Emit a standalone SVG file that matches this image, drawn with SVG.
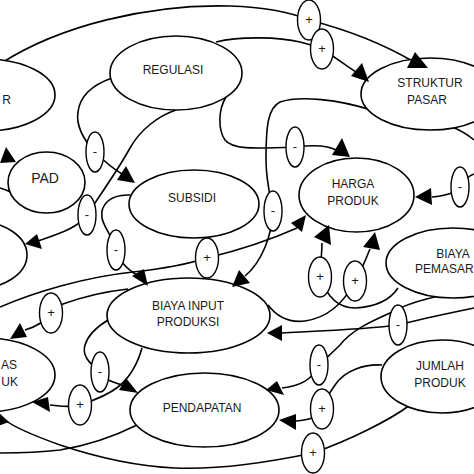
<svg xmlns="http://www.w3.org/2000/svg" width="474" height="474" viewBox="0 0 474 474">
<style>
.n ellipse{fill:#fff;stroke:#000;stroke-width:1.6}
.s ellipse{fill:#fff;stroke:#000;stroke-width:1.4}
text{font-family:"Liberation Sans",Arial,sans-serif;font-size:12px;fill:#1a1a1a;text-anchor:middle}
.s text{font-size:13px}
.e{text-anchor:end}
.st{text-anchor:start}
#connectors path{fill:none;stroke:#000;stroke-width:1.6}
#arrowheads polygon{fill:#000}
</style>
<rect width="474" height="474" fill="#fff"/>
<g id="connectors">
<path d="M0,64 C60,25 150,4 230,6 C262,7 290,12 309,20 C340,28 380,42 414,62"/>
<path d="M216,42 C240,36 280,37 300,42 C312,45 318,47 322,49 C335,57 345,65 356,72"/>
<path d="M112,78 C95,84 80,95 78,112 C76,125 82,138 95,152 C103,160 112,168 122,174"/>
<path d="M176,110 C158,116 140,130 130,148 C118,170 100,195 87,215 C78,228 58,234 38,241"/>
<path d="M130,195 C110,194 100,205 102,218 C104,228 112,235 116,250 C120,262 126,268 138,276"/>
<path d="M226,97 C218,110 218,130 225,140 C232,149 250,149 295,147 C318,144 330,146 338,151"/>
<path d="M371,110 C340,100 300,95 280,102 C268,108 266,125 266,160 C266,180 270,195 273,211 C272,235 262,262 245,276"/>
<path d="M452,127 C460,130 468,135 474,140"/>
<path d="M474,174 C468,176 462,182 460,187 C455,193 445,196 432,197"/>
<path d="M0,307 C35,292 85,277 133,272 C160,269 185,265 207,258 C240,250 270,240 297,228"/>
<path d="M398,288 C390,300 375,307 355,308 C340,308 328,300 320,277 C320,265 322,255 322,243"/>
<path d="M268,305 C278,318 290,323 305,321 C325,318 343,305 355,281 C362,270 366,258 370,249"/>
<path d="M474,308 C450,313 425,318 398,325 C370,329 320,331 282,333"/>
<path d="M474,292 C440,294 410,302 390,313 C370,322 352,330 340,345 C332,353 324,360 319,365 C312,380 300,386 282,388"/>
<path d="M382,365 C365,364 345,370 335,385 C328,395 324,402 322,409 C318,418 308,420 296,421"/>
<path d="M410,405 C390,420 350,440 313,453 C270,462 220,470 175,468 C130,466 90,455 60,445 C35,436 15,428 5,420"/>
<path d="M137,425 C115,436 90,445 60,450 C35,453 15,453 0,453"/>
<path d="M142,348 C138,362 132,376 118,387 C108,395 95,400 80,405 C70,408 60,406 50,405"/>
<path d="M108,320 C95,328 88,335 85,345 C82,355 88,362 100,372 C105,380 112,382 122,385"/>
<path d="M128,289 C110,291 85,296 63,304 C57,307 53,310 51,313 C45,322 35,327 25,330"/>
<path d="M13,193 C8,191 4,189 0,188"/>
</g>
<g id="n-left-top" class="n"><ellipse cx="-15" cy="95" rx="70" ry="36"/><text class="e" x="11" y="104">R</text></g>
<g id="n-regulasi" class="n"><ellipse cx="176" cy="73" rx="66" ry="37"/><text x="173" y="74">REGULASI</text></g>
<g id="n-struktur-pasar" class="n"><ellipse cx="430" cy="94" rx="69" ry="36"/><text x="430" y="87">STRUKTUR</text><text x="427" y="104">PASAR</text></g>
<g id="n-pad" class="n"><ellipse cx="46.5" cy="182.5" rx="38.5" ry="30.5"/><text x="45" y="183" style="font-size:14px">PAD</text></g>
<g id="n-subsidi" class="n"><ellipse cx="194" cy="204" rx="65" ry="34"/><text x="192" y="202">SUBSIDI</text></g>
<g id="n-harga-produk" class="n"><ellipse cx="356.5" cy="195" rx="57.5" ry="37"/><text x="353" y="188">HARGA</text><text x="353" y="205">PRODUK</text></g>
<g id="n-left-mid" class="n"><ellipse cx="-25" cy="255" rx="52" ry="34"/></g>
<g id="n-biaya-pemasaran" class="n"><ellipse cx="453" cy="263" rx="67" ry="35"/><text x="453" y="258">BIAYA</text><text class="st" x="415" y="273">PEMASAR</text></g>
<g id="n-biaya-input" class="n"><ellipse cx="188.5" cy="315.5" rx="81.5" ry="37.5"/><text x="188" y="310">BIAYA INPUT</text><text x="188" y="326">PRODUKSI</text></g>
<g id="n-left-bottom" class="n"><ellipse cx="-15" cy="375" rx="70" ry="37"/><text class="e" x="17" y="369">AS</text><text class="e" x="18" y="386">UK</text></g>
<g id="n-pendapatan" class="n"><ellipse cx="204.5" cy="410" rx="74.5" ry="37"/><text x="202" y="412">PENDAPATAN</text></g>
<g id="n-jumlah-produk" class="n"><ellipse cx="442" cy="376.5" rx="61" ry="36.5"/><text x="440" y="370">JUMLAH</text><text x="440" y="387">PRODUK</text></g>
<g id="s1" class="s"><ellipse cx="309" cy="20" rx="11.5" ry="20"/><text x="309" y="24">+</text></g>
<g id="s2" class="s"><ellipse cx="322" cy="49" rx="11.5" ry="20"/><text x="322" y="53">+</text></g>
<g id="s3" class="s"><ellipse cx="295" cy="147" rx="9" ry="20"/><text x="295" y="151">-</text></g>
<g id="s4" class="s"><ellipse cx="95" cy="152" rx="9" ry="20"/><text x="95" y="156">-</text></g>
<g id="s5" class="s"><ellipse cx="87" cy="215" rx="9" ry="20"/><text x="87" y="219">-</text></g>
<g id="s6" class="s"><ellipse cx="116" cy="250" rx="9" ry="20"/><text x="116" y="254">-</text></g>
<g id="s7" class="s"><ellipse cx="207" cy="258" rx="11.5" ry="20"/><text x="207" y="262">+</text></g>
<g id="s8" class="s"><ellipse cx="273" cy="211" rx="9" ry="20"/><text x="273" y="215">-</text></g>
<g id="s9" class="s"><ellipse cx="460" cy="187" rx="9" ry="20"/><text x="460" y="191">-</text></g>
<g id="s10" class="s"><ellipse cx="320" cy="277" rx="11.5" ry="20"/><text x="320" y="281">+</text></g>
<g id="s11" class="s"><ellipse cx="355" cy="281" rx="11.5" ry="20"/><text x="355" y="285">+</text></g>
<g id="s12" class="s"><ellipse cx="51" cy="313" rx="11.5" ry="20"/><text x="51" y="317">+</text></g>
<g id="s13" class="s"><ellipse cx="100" cy="372" rx="9" ry="20"/><text x="100" y="376">-</text></g>
<g id="s14" class="s"><ellipse cx="80" cy="405" rx="11.5" ry="20"/><text x="80" y="409">+</text></g>
<g id="s15" class="s"><ellipse cx="398" cy="325" rx="9" ry="20"/><text x="398" y="329">-</text></g>
<g id="s16" class="s"><ellipse cx="319" cy="365" rx="9" ry="20"/><text x="319" y="369">-</text></g>
<g id="s17" class="s"><ellipse cx="322" cy="409" rx="11.5" ry="20"/><text x="322" y="413">+</text></g>
<g id="s18" class="s"><ellipse cx="313" cy="453" rx="11.5" ry="20"/><text x="313" y="457">+</text></g>
<g id="arrowheads">
<polygon points="415,52 407,68 428,68"/>
<polygon points="351,76 362,63 369,82"/>
<polygon points="0,163 6,147 16,162"/>
<polygon points="117,180 126,166 135,183"/>
<polygon points="25,244 37,234 42,249"/>
<polygon points="132,276 144,269 148,286"/>
<polygon points="232,287 239,270 250,283"/>
<polygon points="306,215 291,223 302,232"/>
<polygon points="329,225 314,237 331,245"/>
<polygon points="375,232 363,247 380,250"/>
<polygon points="415,197 431,188 432,205"/>
<polygon points="342,138 332,155 350,157"/>
<polygon points="10,339 20,323 27,337"/>
<polygon points="138,393 119,390 126,378"/>
<polygon points="32,402 48,397 50,412"/>
<polygon points="-4,410 9,422 -8,428"/>
<polygon points="267,333 282,325 282,341"/>
<polygon points="266,390 277,381 284,395"/>
<polygon points="279,420 296,414 296,430"/>
</g>
</svg>
